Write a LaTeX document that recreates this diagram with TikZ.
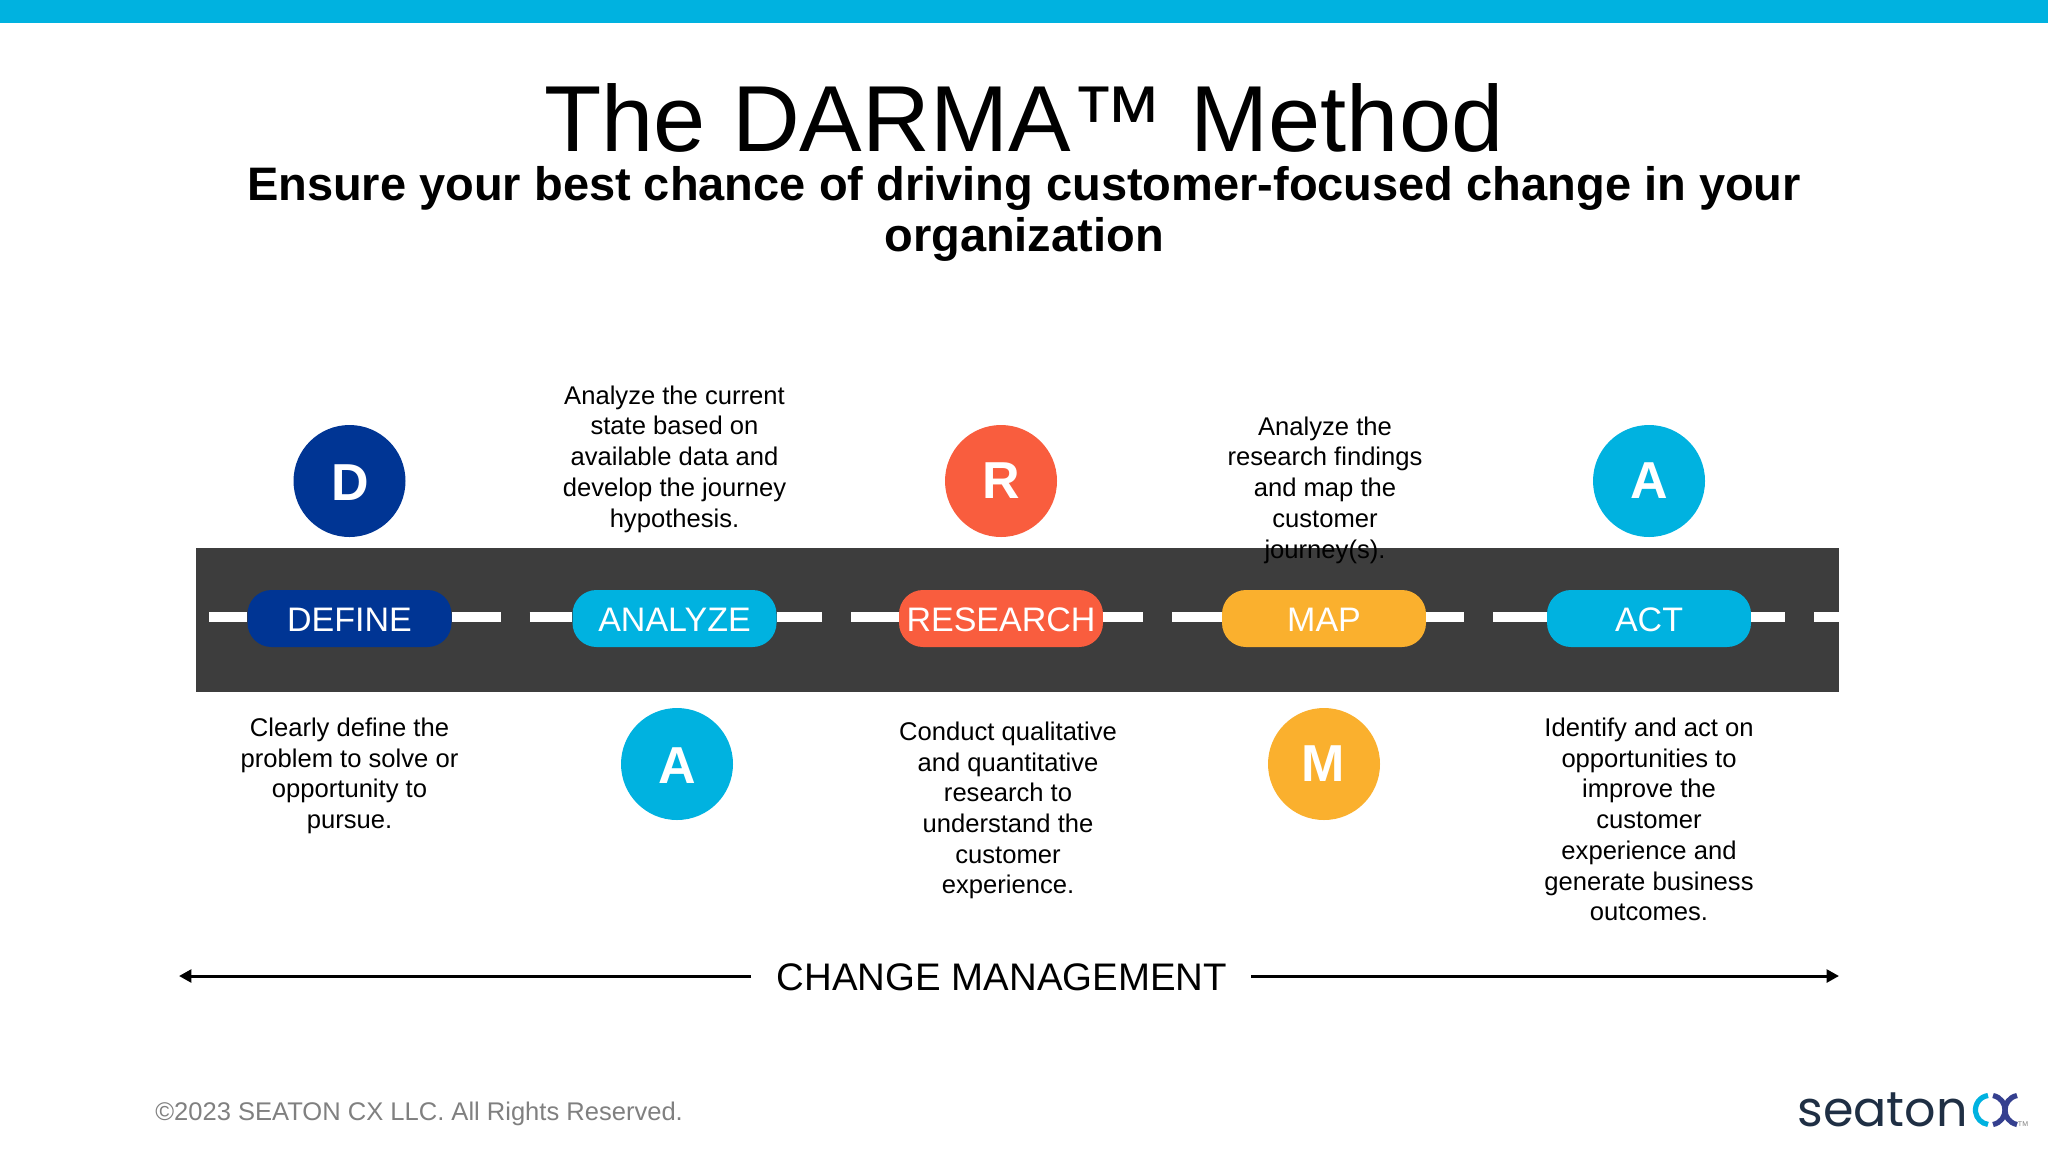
\documentclass[tikz,border=0pt]{standalone}
\usepackage{fontspec}
\setmainfont{Liberation Sans}
\newfontfamily\logofont{Poppins}
\usetikzlibrary{arrows.meta}
\definecolor{navy}{HTML}{003594}
\definecolor{sky}{HTML}{00B2E0}
\definecolor{coral}{HTML}{F95D3E}
\definecolor{amber}{HTML}{FAB02E}
\definecolor{road}{HTML}{3D3D3D}
\definecolor{logoink}{HTML}{1F2F44}
\definecolor{logoviolet}{HTML}{35408F}
\newcommand{\pilltext}[1]{\raisebox{-0.65pt}[\height][\depth]{#1}}
\tikzset{
  pill/.style={fill=#1,rectangle,rounded corners=12pt,minimum width=102pt,minimum height=28.5pt,inner sep=0pt,text=white,font=\fontsize{17}{20}\selectfont},
  disc/.style={fill=#1,circle,minimum size=56pt,inner sep=0pt,text=white,font=\fontsize{26}{30}\bfseries\selectfont},
  body/.style={align=center,inner sep=0pt,text=black,font=\fontsize{12.8}{15.35}\selectfont},
  dashline/.style={draw=white,line width=5pt},
  spanline/.style={draw=black,line width=1.5pt,-{Triangle[length=6.2pt,width=6.4pt]}}
}
\begin{document}
\begin{tikzpicture}[x=0.5pt,y=-0.5pt]
\useasboundingbox (0,0) rectangle (2048,1152);
\fill[white] (0,0) rectangle (2048,1152);
\fill[sky] (0,0) rectangle (2048,23);
\node[inner sep=0pt,font=\fontsize{46.9}{50}\selectfont] (title) at (1024,118) {The DARMA™ Method};
\node[inner sep=0pt,align=center,font=\fontsize{23.5}{25.5}\bfseries\selectfont] (sub) at (1024,214) {Ensure your best chance of driving customer-focused change in your\\organization};
\fill[road] (196,547.5) rectangle (1839,692);
% pills
\node[pill=navy] (define) at (349.5,618.5) {\pilltext{DEFINE}};
\node[pill=sky] (analyze) at (674.5,618.5) {\pilltext{ANALYZE}};
\node[pill=coral] (research) at (1001,618.5) {\pilltext{RESEARCH}};
\node[pill=amber] (map) at (1324,618.5) {\pilltext{MAP}};
\node[pill=sky] (act) at (1649,618.5) {\pilltext{ACT}};
% lane markings
\coordinate (d1a) at (209,617); \coordinate (d1b) at (500.5,617);
\coordinate (d2a) at (529.5,617); \coordinate (d2b) at (821.5,617);
\coordinate (d3a) at (851,617); \coordinate (d3b) at (1143,617);
\coordinate (d4a) at (1172,617); \coordinate (d4b) at (1464,617);
\coordinate (d5a) at (1493,617); \coordinate (d5b) at (1785,617);
\coordinate (d6a) at (1814,617); \coordinate (d6b) at (1839,617);
\draw[dashline] (d1a) -- (define.west |- d1a);
\draw[dashline] (define.east |- d1b) -- (d1b);
\draw[dashline] (d2a) -- (analyze.west |- d2a);
\draw[dashline] (analyze.east |- d2b) -- (d2b);
\draw[dashline] (d3a) -- (research.west |- d3a);
\draw[dashline] (research.east |- d3b) -- (d3b);
\draw[dashline] (d4a) -- (map.west |- d4a);
\draw[dashline] (map.east |- d4b) -- (d4b);
\draw[dashline] (d5a) -- (act.west |- d5a);
\draw[dashline] (act.east |- d5b) -- (d5b);
\draw[dashline] (d6a) -- (d6b);
% discs
\node[disc=navy] (cD) at (349.5,481) {\raisebox{-0.7pt}[\height][\depth]{\kern0.6pt D\kern-0.6pt}};
\node[disc=sky] (cA1) at (677,764) {\raisebox{-0.7pt}[\height][\depth]{A}};
\node[disc=coral] (cR) at (1001,481) {R};
\node[disc=amber] (cM) at (1324,764) {\kern-0.6pt M\kern0.6pt};
\node[disc=sky] (cA2) at (1649,481) {A};
% descriptions
\node[body] (tA) at (674.5,459) {Analyze the current\\state based on\\available data and\\develop the journey\\hypothesis.};
\node[body] (tM) at (1325,490) {Analyze the\\research findings\\and map the\\customer\\journey(s).};
\node[body] (tD) at (349.5,776) {Clearly define the\\problem to solve or\\opportunity to\\pursue.};
\node[body] (tR) at (1008,810.5) {Conduct qualitative\\and quantitative\\research to\\understand the\\customer\\experience.};
\node[body] (tAct) at (1649,819.5) {Identify and act on\\opportunities to\\improve the\\customer\\experience and\\generate business\\outcomes.};
% change management
\node[inner sep=0pt,font=\fontsize{19.2}{24}\selectfont] (cm) at (1002,977.5) {CHANGE MANAGEMENT};
\coordinate (cmL) at (179,976); \coordinate (cmLs) at (751,976);
\coordinate (cmR) at (1839,976); \coordinate (cmRs) at (1251,976);
\draw[spanline] (cmLs) -- (cmL);
\draw[spanline] (cmRs) -- (cmR);
% footer
\node[inner sep=0pt,anchor=west,text=black!50,font=\fontsize{12.77}{15}\selectfont] (copy) at (155,1114) {©2023 SEATON CX LLC. All Rights Reserved.};
% logo
\node[inner sep=0pt,anchor=base west,text=logoink,font=\fontsize{24.6}{28}\logofont\selectfont] (logo) at (1797,1126) {seaton};
\draw[sky,line width=2.6pt] (1988,1095.5) arc[start angle=-98,end angle=-262,radius=14.6];
\draw[logoviolet,line width=2.6pt] (1993,1095.5) .. controls (2009,1099) and (2009,1121) .. (1993,1124.5);
\draw[logoviolet,line width=2.6pt] (2017,1095.5) .. controls (2001,1099) and (2001,1121) .. (2017,1124.5);
\node[inner sep=0pt,text=black!50,font=\fontsize{3.5}{4}\selectfont] (tm) at (2023,1124) {TM};
\end{tikzpicture}
\end{document}
